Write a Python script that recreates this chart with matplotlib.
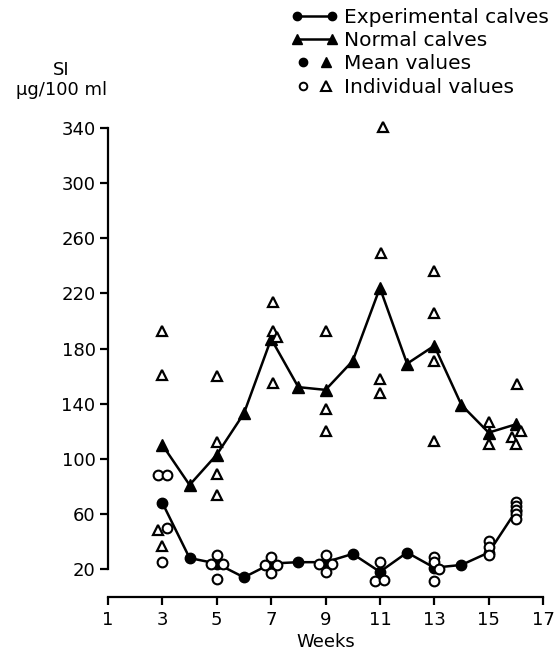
import matplotlib
matplotlib.use("Agg")
import matplotlib.pyplot as plt
from matplotlib.lines import Line2D
from matplotlib.legend_handler import HandlerLine2D, HandlerTuple

plt.rcParams["font.family"] = ["DejaVu Sans"]

weeks = [3, 4, 5, 6, 7, 8, 9, 10, 11, 12, 13, 14, 15, 16]
normal_mean = [110, 81, 103, 133, 187, 152, 150, 171, 224, 169, 182, 139, 119, 125]
exp_mean = [68, 28, 24, 14, 24, 25, 25, 31, 18, 32, 21, 23, 32, 62]

# individual values (x as plotted, slightly offset where points overlap)
normal_ind_x = [3, 3, 2.85, 3,
                5, 5, 5, 5,
                7.05, 7.05, 7.2, 7.05,
                9, 9, 9,
                11.1, 11.05, 11, 11,
                13, 13, 13, 13,
                15, 15,
                16.05, 16.2, 15.87, 16]
normal_ind_y = [193, 161, 48, 37,
                160, 112, 89, 74,
                214, 193, 188, 155,
                193, 136, 120,
                341, 249, 158, 148,
                236, 206, 171, 113,
                127, 111,
                154, 120, 116, 111]

exp_ind_x = [2.83, 3.17, 3.17, 3,
             5, 4.77, 5.23, 5,
             7, 6.77, 7.23, 7,
             9, 8.77, 9.23, 9,
             11, 10.82, 11.15,
             13, 13, 13.17, 13,
             15, 15, 15,
             16, 16, 16, 16, 16]
exp_ind_y = [88, 88, 50, 25,
             30, 24, 24, 13,
             29, 23, 23, 17,
             30, 24, 24, 18,
             25, 11, 12,
             29, 25, 20, 11,
             40, 36, 30,
             69, 66, 63, 60, 56]

x_ticks = list(range(1, 18, 2))
y_ticks = list(range(20, 341, 40))

fig = plt.figure(figsize=(5.6, 6.56), dpi=100)
ax = fig.add_axes([0.1929, 0.0905, 0.7768, 0.7144])

ax.plot(weeks, normal_mean, color="black", lw=1.8, marker="^", ms=8,
        clip_on=False, zorder=3)
ax.plot(weeks, exp_mean, color="black", lw=1.8, marker="o", ms=7.5,
        clip_on=False, zorder=3)
ax.plot(normal_ind_x, normal_ind_y, ls="none", marker="^", ms=7,
        mfc="white", mec="black", mew=1.6, clip_on=False, zorder=4)
ax.plot(exp_ind_x, exp_ind_y, ls="none", marker="o", ms=7,
        mfc="white", mec="black", mew=1.5, clip_on=False, zorder=4)

ax.set_xlim(1, 17)
ax.set_ylim(0, 340)
ax.set_xticks(x_ticks)
ax.set_yticks(y_ticks)
ax.spines["top"].set_visible(False)
ax.spines["right"].set_visible(False)
ax.spines["left"].set_bounds(20, 340)
ax.spines["bottom"].set_bounds(1, 17)
ax.spines["left"].set_linewidth(1.6)
ax.spines["bottom"].set_linewidth(1.6)
ax.tick_params(axis="both", labelsize=13, width=1.6, length=6, direction="out")
ax.tick_params(axis="y", pad=3)
ax.tick_params(axis="x", pad=4)
ax.set_xlabel("Weeks", fontsize=13, labelpad=3)

fig.text(0.11, 0.885, "SI", ha="center", fontsize=13)
fig.text(0.11, 0.855, "µg/100 ml", ha="center", fontsize=13)

# legend
h_exp = Line2D([], [], color="black", lw=1.8, marker="o", ms=6)
h_norm = Line2D([], [], color="black", lw=1.8, marker="^", ms=7)
h_mc = Line2D([], [], ls="none", color="black", marker="o", ms=6)
h_mt = Line2D([], [], ls="none", color="black", marker="^", ms=7)
h_ic = Line2D([], [], ls="none", marker="o", ms=5.5, mfc="white", mec="black", mew=1.4)
h_it = Line2D([], [], ls="none", marker="^", ms=6.5, mfc="white", mec="black", mew=1.5)
one = HandlerLine2D(numpoints=1)
fig.legend([h_exp, h_norm, (h_mc, h_mt), (h_ic, h_it)],
           ["Experimental calves", "Normal calves", "Mean values", "Individual values"],
           loc="upper right", bbox_to_anchor=(1.012, 1.016), frameon=False,
           fontsize=14.5, numpoints=2, handlelength=2.3, handletextpad=0.3,
           labelspacing=0.22,
           handler_map={tuple: HandlerTuple(ndivide=None, pad=0.0),
                        h_mc: one, h_mt: one, h_ic: one, h_it: one})

fig.savefig("out.png", dpi=100)
